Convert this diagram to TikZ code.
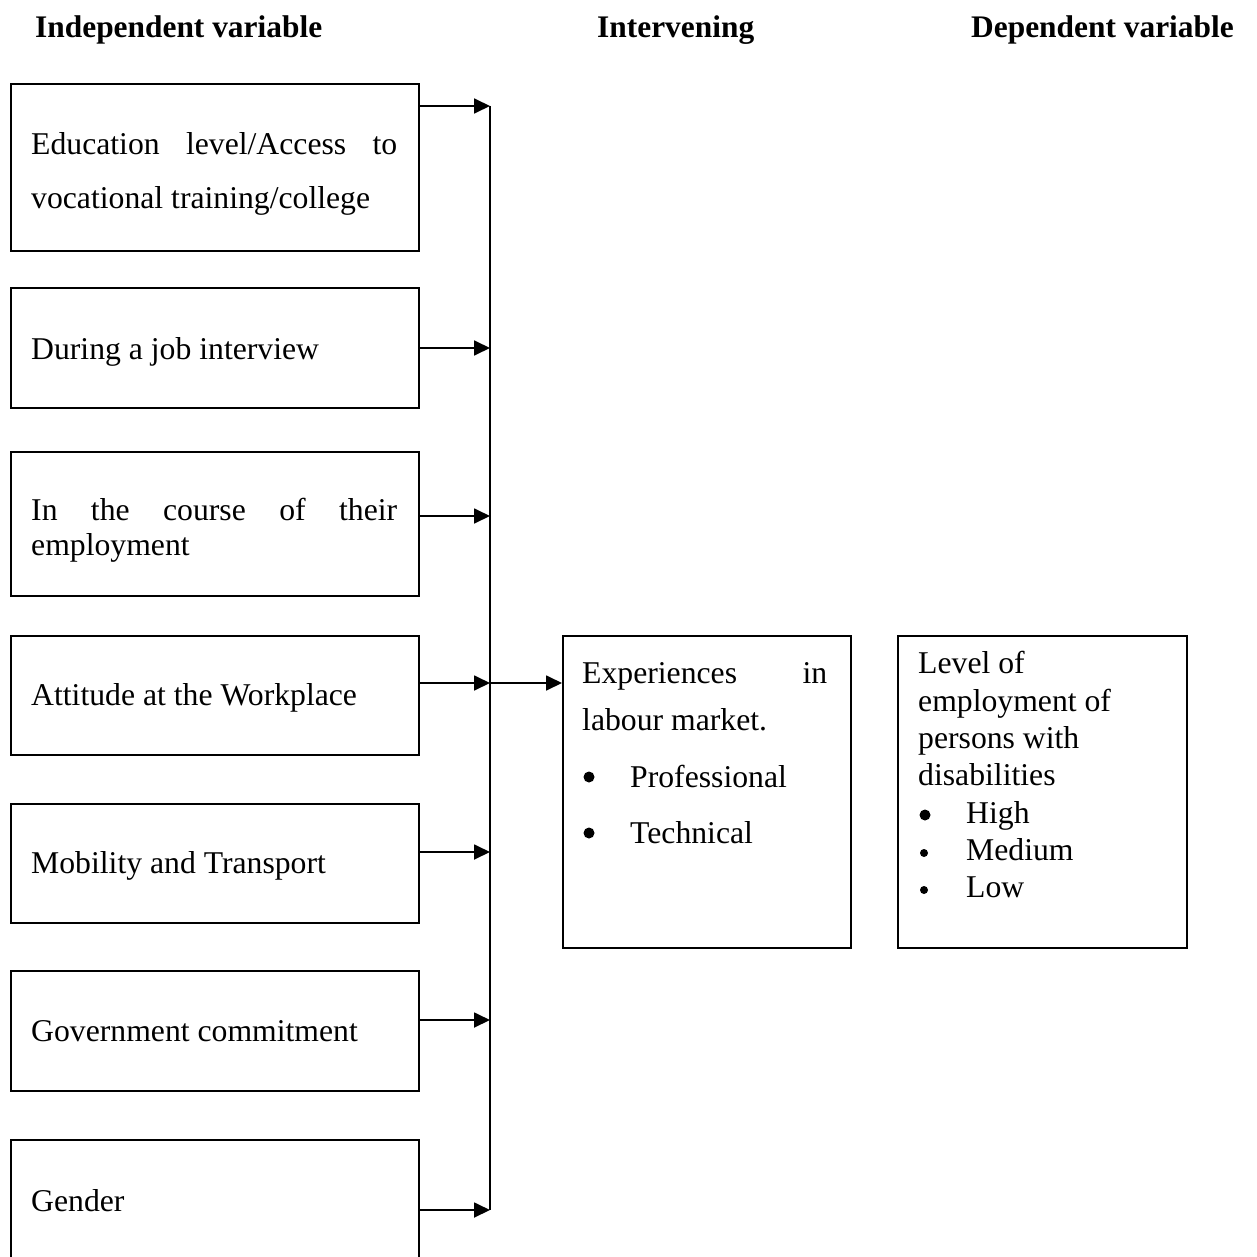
\documentclass[tikz,border=0pt]{standalone}
\usepackage{fontspec}
\setmainfont{Liberation Serif}
\usetikzlibrary{arrows.meta}
\begin{document}
\begin{tikzpicture}[x=1pt,y=-1pt,
  box/.style={draw=black,line width=1.8pt,anchor=north west,inner sep=0pt},
  txt/.style={anchor=base west,inner sep=0pt,font=\fontsize{31.7}{36.5}\selectfont},
  hdr/.style={anchor=base west,inner sep=0pt,font=\fontsize{31.4}{36}\selectfont\bfseries},
  bul/.style={circle,fill=black,inner sep=0pt,minimum size=11pt},
  sbul/.style={circle,fill=black,inner sep=0pt,minimum size=8pt},
  conn/.style={line width=1.8pt},
  arr/.style={line width=1.8pt,-{Triangle[length=16pt,width=15pt]}}]
\useasboundingbox (0,0) rectangle (1257,1257);
\clip (0,0) rectangle (1257,1257);
\fill[white] (0,0) rectangle (1257,1257);
% headers
\node[hdr] (h1) at (35,38) {Independent variable};
\node[hdr] (h2) at (597,38) {Intervening};
\node[hdr] (h3) at (971,38) {Dependent variable};
% left boxes
\node[box,minimum width=408pt,minimum height=167pt] (b1) at (10,83) {};
\node[box,minimum width=408pt,minimum height=120pt] (b2) at (10,287) {};
\node[box,minimum width=408pt,minimum height=144pt] (b3) at (10,451) {};
\node[box,minimum width=408pt,minimum height=119pt] (b4) at (10,635) {};
\node[box,minimum width=408pt,minimum height=119pt] (b5) at (10,803) {};
\node[box,minimum width=408pt,minimum height=120pt] (b6) at (10,970) {};
\node[box,minimum width=408pt,minimum height=140pt] (b7) at (10,1139) {};
% left texts
\node[txt] (t1a) at (31,155) {\hbox to 366pt{Education\hfill level/Access\hfill to}};
\node[txt] (t1b) at (31,209) {vocational training/college};
\node[txt] (t2) at (31,359) {During a job interview};
\node[txt] (t3a) at (31,520) {\hbox to 366pt{In\hfill the\hfill course\hfill of\hfill their}};
\node[txt] (t3b) at (31,555) {employment};
\node[txt] (t4) at (31,705) {Attitude at the Workplace};
\node[txt] (t5) at (31,873) {Mobility and Transport};
\node[txt] (t6) at (31,1041) {Government commitment};
\node[txt] (t7) at (31,1211) {Gender};
% middle and right boxes
\node[box,minimum width=288pt,minimum height=312pt] (m) at (562,635) {};
\node[box,minimum width=289pt,minimum height=312pt] (r) at (897,635) {};
\node[txt] (m1) at (582,683) {\hbox to 245pt{Experiences\hfill in}};
\node[txt] (m2) at (582,730) {labour market.};
\node[bul] (mb1) at (589,777) {};
\node[txt] (m3) at (630,787) {Professional};
\node[bul] (mb2) at (589,833) {};
\node[txt] (m4) at (630,843) {Technical};
\node[txt] (r1) at (918,673) {Level of};
\node[txt] (r2) at (918,711) {employment of};
\node[txt] (r3) at (918,748) {persons with};
\node[txt] (r4) at (918,785) {disabilities};
\node[bul] (rb1) at (925,815) {};
\node[txt] (r5) at (966,823) {High};
\node[sbul] (rb2) at (924,853) {};
\node[txt] (r6) at (966,860) {Medium};
\node[sbul] (rb3) at (924,890) {};
\node[txt] (r7) at (966,897) {Low};
% connectors
\coordinate (j1) at (490,106);
\coordinate (j2) at (490,348);
\coordinate (j3) at (490,516);
\coordinate (j4) at (490,683);
\coordinate (j5) at (490,852);
\coordinate (j6) at (490,1020);
\coordinate (j7) at (490,1210);
\draw[conn] (j1) -- (j7);
\draw[arr] (b1.east |- j1) -- (j1);
\draw[arr] (b2.east |- j2) -- (j2);
\draw[arr] (b3.east |- j3) -- (j3);
\draw[arr] (b4.east |- j4) -- (j4);
\draw[arr] (b5.east |- j5) -- (j5);
\draw[arr] (b6.east |- j6) -- (j6);
\draw[arr] (b7.east |- j7) -- (j7);
\draw[arr] (j4) -- (m.west |- j4);
\end{tikzpicture}
\end{document}
